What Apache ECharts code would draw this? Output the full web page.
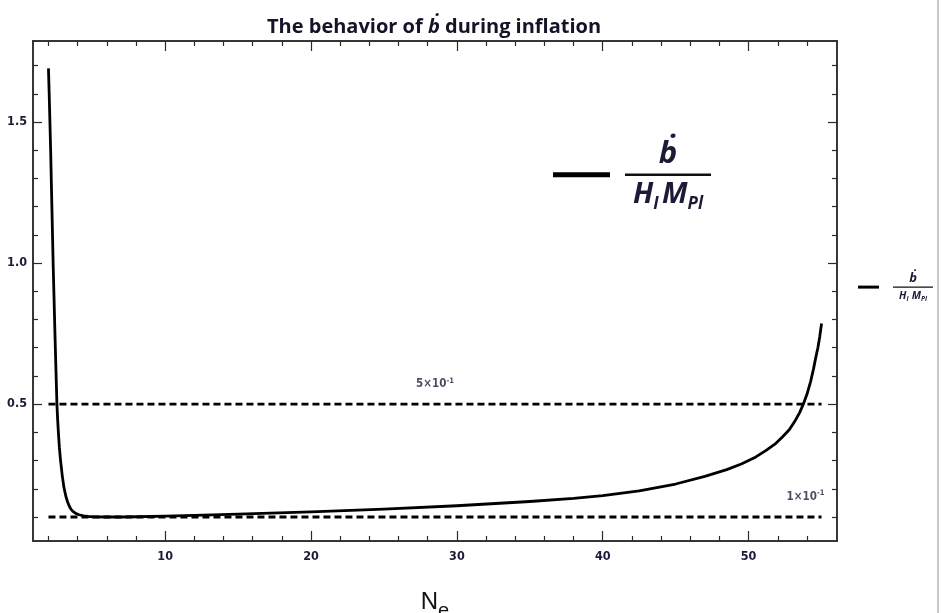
<!DOCTYPE html>
<html>
<head>
<meta charset="utf-8">
<script src="https://cdn.jsdelivr.net/npm/echarts@6/dist/echarts.min.js"></script>
<style>html,body{margin:0;padding:0;background:#fff;}#c{width:941px;height:613px;}</style>
</head>
<body>
<div id="c"></div>
<script>
// ---- data ----
const nValues = [2.0, 2.05, 2.1, 2.15, 2.2, 2.26, 2.32, 2.38, 2.45, 2.52, 2.58, 2.63, 2.68, 2.75, 2.83, 2.95, 3.06, 3.2, 3.3, 3.43, 3.55, 3.7, 3.9, 4.1, 4.4, 4.7, 5, 6, 7, 8, 10, 12, 15, 20, 25, 30, 35, 38, 40, 42.5, 45, 47, 48.5, 49.5, 50.5, 51.2, 51.8, 52.3, 52.8, 53.2, 53.5, 53.75, 54.0, 54.25, 54.45, 54.6, 54.75, 54.88, 55];
const bDotValues = [1.69, 1.60, 1.50, 1.40, 1.28, 1.14, 1.00, 0.88, 0.74, 0.61, 0.50, 0.445, 0.40, 0.345, 0.30, 0.245, 0.205, 0.172, 0.155, 0.138, 0.127, 0.119, 0.112, 0.108, 0.104, 0.102, 0.101, 0.100, 0.100, 0.101, 0.103, 0.106, 0.110, 0.118, 0.128, 0.140, 0.155, 0.166, 0.176, 0.193, 0.217, 0.244, 0.268, 0.288, 0.313, 0.336, 0.358, 0.383, 0.410, 0.442, 0.470, 0.500, 0.535, 0.580, 0.625, 0.664, 0.700, 0.740, 0.786];
const refLineRange = [2, 55];
const refLevels = [0.5, 0.1];
const refLabelN = [28.5, 53.9];
const refLabelMantissa = ['5', '1'];
const xMajorTicks = [10, 20, 30, 40, 50];
const xMinorTicks = [2, 4, 6, 8, 12, 14, 16, 18, 22, 24, 26, 28, 32, 34, 36, 38, 42, 44, 46, 48, 52, 54];
const yMajorTicks = [0.5, 1.0, 1.5];
const yMinorTicks = [0.1, 0.2, 0.3, 0.4, 0.6, 0.7, 0.8, 0.9, 1.1, 1.2, 1.3, 1.4, 1.6, 1.7];
const xRange = [0.94, 56.06];
const yRange = [0.015, 1.787];

const seriesName = 'bdot';
const curve = nValues.map((n, i) => [n, bDotValues[i]]);

const frameColor = '#2a2a2a';
const labelColor = '#1b1b38';
const labelFont = '"Liberation Sans Narrow", "DejaVu Sans Condensed", "Liberation Sans", Arial, sans-serif';

function mkAxis(dim, pos, ticks, len, showLabel) {
  const isX = dim === 'x';
  const r = isX ? xRange : yRange;
  return {
    type: 'value', position: pos, min: r[0], max: r[1], offset: 0,
    axisLine: { show: true, onZero: false, lineStyle: { color: frameColor, width: 1.5 } },
    axisTick: { show: true, inside: true, length: len, customValues: ticks, lineStyle: { color: frameColor, width: 1.2 } },
    axisLabel: showLabel ? {
      show: true, customValues: ticks, color: labelColor, fontFamily: labelFont, fontWeight: 'bold', fontSize: 12.5,
      margin: isX ? 9 : 6,
      formatter: v => isX ? String(v) : v.toFixed(1)
    } : { show: false },
    splitLine: { show: false },
    silent: true
  };
}

const xAxes = [
  mkAxis('x', 'bottom', xMajorTicks, 10, true),
  mkAxis('x', 'bottom', xMinorTicks, 5, false),
  mkAxis('x', 'top', xMajorTicks, 10, false),
  mkAxis('x', 'top', xMinorTicks, 5, false)
];
xAxes[0].name = '{n|N}{e|e}';
xAxes[0].nameLocation = 'middle';
xAxes[0].nameGap = 49;
xAxes[0].nameTextStyle = {
  rich: {
    n: { fontSize: 24, fontFamily: 'Liberation Sans, Arial', color: '#111', verticalAlign: 'bottom' },
    e: { fontSize: 20, fontFamily: 'Liberation Sans, Arial', color: '#111', verticalAlign: 'bottom', padding: [0, 0, -7, 0] }
  }
};
const yAxes = [
  mkAxis('y', 'left', yMajorTicks, 9, true),
  mkAxis('y', 'left', yMinorTicks, 5, false),
  mkAxis('y', 'right', yMajorTicks, 9, false),
  mkAxis('y', 'right', yMinorTicks, 5, false)
];

const refSeries = refLevels.map((lvl, k) => ({
  type: 'line', name: 'ref' + k, xAxisIndex: 0, yAxisIndex: 0,
  symbol: 'none', showSymbol: false, silent: true,
  lineStyle: { color: '#000', width: 2.8, type: [7, 4], cap: 'butt' },
  emphasis: { disabled: true },
  data: [[refLineRange[0], lvl], [refLineRange[1], lvl]]
}));

const refLabelSeries = {
  type: 'scatter', name: 'refLabels', xAxisIndex: 0, yAxisIndex: 0,
  symbolSize: 1, silent: true,
  itemStyle: { color: 'rgba(0,0,0,0)' },
  emphasis: { disabled: true },
  data: refLevels.map((lvl, k) => [refLabelN[k], lvl]),
  label: {
    show: true, position: 'top', distance: 13,
    formatter: p => refLabelMantissa[p.dataIndex] + '\u00d710{s|-1}',
    color: labelColor, fontFamily: labelFont, fontWeight: 'bold', fontSize: 11.5,
    rich: { s: { fontSize: 7.5, fontWeight: 'bold', fontFamily: labelFont, color: labelColor, verticalAlign: 'top', padding: [0, 0, 6, 0] } }
  }
};

function fracRich(big, sub, numSize, barW, barH, lh) {
  const base = { fontFamily: '"Open Sans", "DejaVu Sans", sans-serif', fontWeight: 'bold', fontStyle: 'italic', color: labelColor, align: 'center' };
  return {
    num: Object.assign({}, base, { fontSize: numSize, lineHeight: lh }),
    bar: { width: barW, height: barH, backgroundColor: '#111', align: 'center', lineHeight: barH + 2 },
    H: Object.assign({}, base, { fontSize: big, lineHeight: lh }),
    s: Object.assign({}, base, { fontSize: sub, lineHeight: lh, verticalAlign: 'bottom' })
  };
}
const fracText = '{num|\u1E03}\n{bar|}\n{H|H}{s|I} {H|M}{s|Pl}';

const option = {
  animation: false,
  backgroundColor: '#ffffff',
  title: {
    text: 'The behavior of {b|\u1E03} during inflation',
    left: 262, top: 12,
    textStyle: {
      fontFamily: '"Open Sans", "DejaVu Sans", sans-serif', fontWeight: 'bold', fontSize: 20, color: '#141428',
      rich: { b: { fontFamily: '"Open Sans", "DejaVu Sans", sans-serif', fontWeight: 'bold', fontStyle: 'italic', fontSize: 20, color: '#141428' } }
    }
  },
  grid: { left: 33, top: 41, right: 104, bottom: 72, containLabel: false, outerBoundsMode: 'none' },
  legend: [
    {
      data: [seriesName], left: 553, top: 139, orient: 'vertical', padding: 0,
      icon: 'rect', itemWidth: 57, itemHeight: 5, selectedMode: false,
      formatter: () => fracText,
      textStyle: { padding: [0, 0, 0, 10], rich: fracRich(29, 17, 31, 86, 2.5, 36) }
    },
    {
      data: [seriesName], left: 858, top: 272, orient: 'vertical', padding: 0,
      icon: 'rect', itemWidth: 21, itemHeight: 3, selectedMode: false,
      formatter: () => fracText,
      textStyle: { padding: [0, 0, 0, 9], rich: fracRich(10.5, 6.5, 13, 40, 1.2, 14) }
    }
  ],
  xAxis: xAxes,
  yAxis: yAxes,
  series: [
    {
      type: 'line', name: seriesName, xAxisIndex: 0, yAxisIndex: 0,
      data: curve, showSymbol: false, symbol: 'none', smooth: false,
      lineStyle: { color: '#000', width: 2.8, join: 'round' },
      itemStyle: { color: '#000' },
      emphasis: { disabled: true }, silent: true, z: 3
    }
  ].concat(refSeries, [refLabelSeries]),
  graphic: [
    { type: 'rect', shape: { x: 937, y: 0, width: 2, height: 613 }, style: { fill: '#c9c9c9' }, silent: true }
  ]
};

const chart = echarts.init(document.getElementById('c'), null, { renderer: 'canvas' });
chart.setOption(option);
</script>
</body>
</html>
